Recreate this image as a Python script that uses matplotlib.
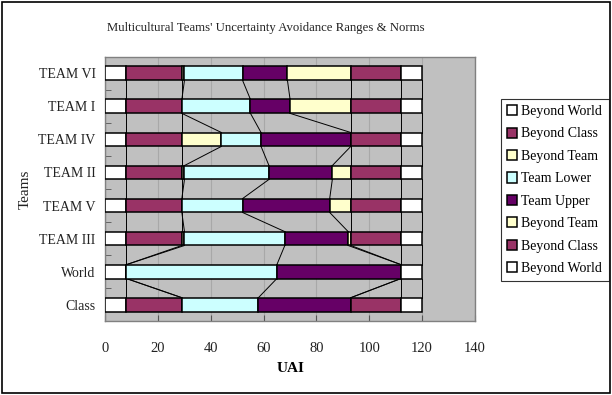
import matplotlib
matplotlib.use("Agg")
import matplotlib.pyplot as plt
from matplotlib.patches import Rectangle, Patch

plt.rcParams['font.family'] = ['Liberation Serif', 'DejaVu Serif']

# Categories, bottom to top
teams = ["Class", "World", "TEAM III", "TEAM V", "TEAM II", "TEAM IV", "TEAM I", "TEAM VI"]

series_names = ["Beyond World", "Beyond Class", "Beyond Team", "Team Lower",
                "Team Upper", "Beyond Team", "Beyond Class", "Beyond World"]

beyond_world_low = [8, 8, 8, 8, 8, 8, 8, 8]
beyond_class_low = [21, 0, 21, 21, 21, 21, 21, 21]
beyond_team_low = [0, 0, 1, 0, 1, 15, 0, 1]
team_lower = [29, 57, 38, 23, 32, 15, 26, 22]
team_upper = [35, 47, 24, 33, 24, 34, 15, 17]
beyond_team_high = [0, 0, 1, 8, 7, 0, 23, 24]
beyond_class_high = [19, 0, 19, 19, 19, 19, 19, 19]
beyond_world_high = [8, 8, 8, 8, 8, 8, 8, 8]

series_values = [beyond_world_low, beyond_class_low, beyond_team_low, team_lower,
                 team_upper, beyond_team_high, beyond_class_high, beyond_world_high]
colors = ["#FFFFFF", "#993366", "#FFFFCC", "#CCFFFF",
          "#660066", "#FFFFCC", "#993366", "#FFFFFF"]

xticks = [0, 20, 40, 60, 80, 100, 120, 140]

fig = plt.figure(figsize=(6.12, 3.95), dpi=100)
ax = fig.add_axes([0.172, 0.187, 0.604, 0.669])
ax.set_facecolor("#C0C0C0")

bar_h = 0.42
ypos = list(range(len(teams)))
left = [0.0] * len(teams)
cums = []
for vals, col in zip(series_values, colors):
    ax.barh(ypos, vals, left=left, height=bar_h, color=col,
            edgecolor="black", linewidth=1.1, zorder=3)
    left = [l + v for l, v in zip(left, vals)]
    cums.append(list(left))

# series lines between adjacent bars
for cum in cums:
    for i in range(len(teams) - 1):
        ax.plot([cum[i], cum[i + 1]], [ypos[i] + bar_h / 2, ypos[i + 1] - bar_h / 2],
                color="black", linewidth=0.7, zorder=2)

ax.set_xlim(0, 140)
ax.set_ylim(-0.5, len(teams) - 0.5)
ax.set_xticks(xticks)
ax.set_xticklabels([str(t) for t in xticks], fontsize=10.5, color="#222222")
ax.xaxis.grid(True, color="#A8A8A8", linewidth=0.8, zorder=0)
ax.set_axisbelow(True)

ax.set_yticks(ypos)
ax.set_yticklabels(teams, fontsize=10, color="#222222")
ax.tick_params(axis="y", length=0, pad=7)
ax.set_yticks([y + 0.5 for y in ypos[:-1]], minor=True)
ax.tick_params(axis="y", which="minor", direction="in", length=4, color="#555555")
ax.tick_params(axis="x", direction="in", length=4, color="#555555", pad=15)

for s in ax.spines.values():
    s.set_color("#808080")
    s.set_linewidth(1.0)

ax.set_xlabel("UAI", fontsize=11, fontweight="bold", labelpad=5)
ax.set_ylabel("Teams", fontsize=11, color="#222222")
ax.yaxis.set_label_coords(-0.2, 0.5)

fig.text(0.434, 0.928, "Multicultural Teams' Uncertainty Avoidance Ranges & Norms",
         ha="center", va="center", fontsize=9.2, color="#222222")

handles = [Patch(facecolor=c, edgecolor="black", linewidth=1.1) for c in colors]
leg = fig.legend(handles, series_names, loc="upper left",
                 bbox_to_anchor=(0.818, 0.75), fontsize=10,
                 handlelength=0.75, handleheight=0.75, handletextpad=0.3,
                 labelspacing=0.68, borderpad=0.45, frameon=True, fancybox=False,
                 borderaxespad=0)
leg.get_frame().set_edgecolor("black")
leg.get_frame().set_linewidth(0.8)

fig.patches.append(Rectangle((0.003, 0.005), 0.994, 0.99, transform=fig.transFigure,
                             fill=False, edgecolor="black", linewidth=1.2))

fig.savefig("out.png", dpi=100)
